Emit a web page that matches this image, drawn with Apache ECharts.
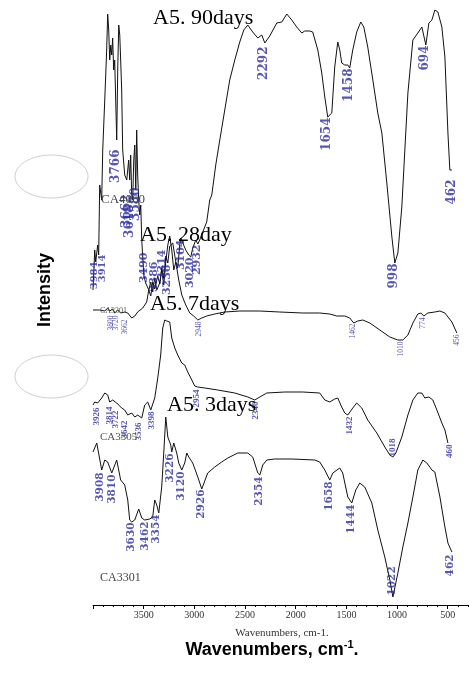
<!DOCTYPE html>
<html><head><meta charset="utf-8">
<script src="https://cdn.jsdelivr.net/npm/echarts@6/dist/echarts.min.js"></script>
<style>html,body{margin:0;padding:0;background:#fff}#c{width:470px;height:673px}</style>
</head><body><div id="c"></div>
<script>
// Wavenumber (cm-1) vs. stacked intensity (arbitrary offset units)
const days90 = [[4000,315],[3983,355],[3973,343],[3954,360],[3944,350],[3934,420],[3914,405],[3904,455],[3884,505],[3865,555],[3855,591],[3845,575],[3835,545],[3825,560],[3815,550],[3806,567],[3796,535],[3786,545],[3776,505],[3766,465],[3756,535],[3746,580],[3736,570],[3727,545],[3717,515],[3707,455],[3687,430],[3667,425],[3648,445],[3638,425],[3628,450],[3618,410],[3608,405],[3598,445],[3588,460],[3578,415],[3569,475],[3559,430],[3549,405],[3539,390],[3529,400],[3519,365],[3499,330],[3480,322],[3450,315],[3430,323],[3411,313],[3391,327],[3371,315],[3341,322],[3322,335],[3302,320],[3282,343],[3262,360],[3243,369],[3223,355],[3203,335],[3183,343],[3164,337],[3144,360],[3134,367],[3114,362],[3085,355],[3055,350],[3035,348],[3016,357],[2986,365],[2966,361],[2947,365],[2917,373],[2878,383],[2848,405],[2828,410],[2789,440],[2749,465],[2700,495],[2651,525],[2601,545],[2552,563],[2512,575],[2473,580],[2424,573],[2374,567],[2335,570],[2305,562],[2256,569],[2187,582],[2137,583],[2088,591],[2039,585],[1990,578],[1940,572],[1911,574],[1861,574],[1832,573],[1782,555],[1743,532],[1713,508],[1684,488],[1644,492],[1615,538],[1585,563],[1565,555],[1546,542],[1516,540],[1486,540],[1467,537],[1437,555],[1398,573],[1358,583],[1328,578],[1289,558],[1239,525],[1190,492],[1150,472],[1101,422],[1051,368],[1022,342],[992,352],[953,398],[923,455],[893,512],[844,565],[795,572],[755,578],[716,560],[686,582],[656,585],[627,595],[597,593],[558,578],[528,548],[498,472],[479,435],[459,435]];
const days28 = [[4000,295],[3934,295],[3884,294],[3855,297],[3835,294],[3806,296],[3786,292],[3756,295],[3727,292],[3687,293],[3657,292],[3618,287],[3588,289],[3559,293],[3509,297],[3470,303],[3450,315],[3430,309],[3411,323],[3391,316],[3361,329],[3341,321],[3322,337],[3302,327],[3282,349],[3262,342],[3243,359],[3213,362],[3183,343],[3154,325],[3124,310],[3085,300],[3045,292],[3006,289],[2966,285],[2927,287],[2878,289],[2799,291],[2700,293],[2552,294],[2354,294],[2157,293],[1930,292],[1763,292],[1664,291],[1595,289],[1516,289],[1467,287],[1427,282],[1388,284],[1338,285],[1269,282],[1170,275],[1071,268],[992,265],[943,265],[893,270],[844,282],[795,291],[765,292],[736,289],[696,292],[627,293],[577,294],[528,292],[459,283],[410,272]];
const days7 = [[4000,200],[3983,203],[3954,202],[3914,207],[3884,212],[3855,210],[3835,203],[3806,205],[3766,202],[3756,203],[3717,197],[3687,195],[3657,190],[3618,192],[3588,188],[3559,190],[3519,187],[3490,200],[3460,203],[3430,195],[3391,207],[3361,227],[3332,250],[3312,277],[3292,285],[3272,284],[3262,286],[3243,283],[3223,267],[3193,257],[3164,250],[3124,242],[3095,240],[3065,233],[3025,225],[2996,219],[2966,218],[2897,217],[2769,215],[2601,212],[2473,208],[2404,205],[2354,208],[2285,212],[2108,213],[1930,213],[1763,212],[1713,205],[1664,203],[1615,206],[1585,207],[1546,198],[1516,192],[1486,190],[1437,197],[1398,202],[1348,197],[1289,185],[1200,172],[1121,158],[1071,150],[1041,148],[1012,152],[953,168],[893,190],[844,205],[795,212],[755,212],[726,207],[686,208],[647,205],[607,195],[558,182],[528,175],[498,162]];
const days3 = [[4000,153],[3963,162],[3914,135],[3884,145],[3855,143],[3815,132],[3766,145],[3727,125],[3687,120],[3657,105],[3638,85],[3618,83],[3588,85],[3549,96],[3519,87],[3490,85],[3440,86],[3411,88],[3391,105],[3371,100],[3351,92],[3322,118],[3302,152],[3282,188],[3262,168],[3233,160],[3223,153],[3203,162],[3174,152],[3154,142],[3124,135],[3095,142],[3075,152],[3055,148],[3016,142],[2966,128],[2927,116],[2868,132],[2799,138],[2730,143],[2670,147],[2572,152],[2473,152],[2424,148],[2374,132],[2354,130],[2325,140],[2285,145],[2206,146],[2039,146],[1812,145],[1763,143],[1713,135],[1664,125],[1634,132],[1565,137],[1536,132],[1486,108],[1447,102],[1407,115],[1368,122],[1319,118],[1249,102],[1190,75],[1121,48],[1071,25],[1041,8],[992,32],[943,58],[893,82],[844,108],[795,135],[745,145],[706,142],[656,135],[627,133],[577,108],[528,78],[498,62],[459,53]];

// Peak labels: [wavenumber, intensity at label anchor, text]
const peaks90 = [[2305,558,'2292'],[1684,487,'1654'],[1467,536,'1458'],[1022,341,'998'],[716,559,'694'],[459,425,'462'],[3766,455,'3766'],[3657,410,'3662'],[3628,400,'3618'],[3569,417,'3580']];
const peaks90Edge = [[3983,343,'3984'],[3904,350,'3914']];
const peaks28Mid = [[3490,352,'3490'],[3391,343,'3386'],[3312,355,'3314'],[3262,340,'3236'],[3124,365,'3104'],[3035,347,'3020'],[2966,360,'2932']];
const peaks28 = [[3815,289,'3800'],[3766,289,'3720'],[3677,285,'3662'],[2947,283,'2948'],[1427,281,'1462'],[953,263,'1010'],[736,287,'774'],[405,270,'456']];
const peaks7 = [[3963,197,'3926'],[3835,198,'3814'],[3776,194,'3722'],[3687,184,'3642'],[3549,182,'3536'],[3420,193,'3398'],[2976,215,'2954'],[2394,203,'2340'],[1467,188,'1432'],[479,160,'460']];
const peaks7Above = [[1041,148,'1018']];
const peaks3 = [[3924,132,'3908'],[3806,130,'3810'],[3618,82,'3630'],[3480,83,'3462'],[3371,90,'3354'],[3233,151,'3226'],[3124,133,'3120'],[2927,115,'2926'],[2354,128,'2354'],[1664,123,'1658'],[1447,100,'1444'],[469,50,'462']];
const peaks3Above = [[1041,9,'1022']];

const majorTicks = [4000, 3500, 3000, 2500, 2000, 1500, 1000, 500];
const tickLabels = [3500, 3000, 2500, 2000, 1500, 1000, 500];
const xMin = 300, xMax = 4000;

const chart = echarts.init(document.getElementById('c'), null, {renderer: 'canvas'});

function curve(name, data) {
  return {name, type: 'line', data, symbol: 'none', silent: true, animation: false,
    lineStyle: {color: '#111', width: 1}};
}
function peakLabels(data, size, family, weight, above) {
  return {type: 'scatter', data, symbolSize: 1, silent: true, animation: false, z: 5,
    itemStyle: {color: 'rgba(0,0,0,0)'},
    label: {show: true, formatter: p => p.data[2], position: [0, 0], rotate: 90,
      align: above ? 'left' : 'right', verticalAlign: 'middle',
      fontFamily: family, fontWeight: weight, fontSize: size, color: '#2c2ca0'}};
}
const serif = 'Liberation Serif';
const series = [
  curve('A5. 90days', days90), curve('A5. 28day', days28),
  curve('A5. 7days', days7), curve('A5. 3days', days3),
  peakLabels(peaks90, 12, 'DejaVu Serif', 'bold', false),
  peakLabels(peaks90Edge, 10, 'DejaVu Serif', 'bold', false),
  peakLabels(peaks28Mid, 11, 'DejaVu Serif', 'bold', false),
  peakLabels(peaks28, 7.5, serif, 'normal', false),
  peakLabels(peaks7, 9, serif, 'bold', false),
  peakLabels(peaks7Above, 9, serif, 'bold', true),
  peakLabels(peaks3, 10.5, 'DejaVu Serif', 'bold', false),
  peakLabels(peaks3Above, 10.5, 'DejaVu Serif', 'bold', true)
];

function txt(text, x, y, size, opts) {
  return Object.assign({type: 'text', x, y, silent: true, z: 10,
    style: Object.assign({text, fontFamily: serif, fontSize: size, fill: '#000',
      align: 'left', verticalAlign: 'middle'}, opts || {})});
}

chart.setOption({
  animation: false,
  backgroundColor: '#fff',
  grid: {left: 93, top: 0, right: 2, bottom: 68, containLabel: false},
  xAxis: [
    {type: 'value', min: xMin, max: xMax, interval: 100, inverse: true,
      axisLine: {lineStyle: {color: '#000', width: 1}},
      axisTick: {show: true, length: 2, lineStyle: {color: '#000'}},
      splitLine: {show: false}, axisLabel: {show: false}},
    {type: 'value', min: xMin, max: xMax, inverse: true, position: 'bottom',
      axisLine: {show: false},
      axisTick: {show: true, length: 4, customValues: majorTicks, lineStyle: {color: '#000'}},
      splitLine: {show: false},
      axisLabel: {customValues: tickLabels, formatter: v => String(v),
        fontFamily: serif, fontSize: 10, color: '#333', margin: 5}}
  ],
  yAxis: {type: 'value', min: 0, max: 605, show: false},
  series,
  graphic: [
    {type: 'ellipse', shape: {cx: 51.5, cy: 176.5, rx: 36.5, ry: 21.5}, silent: true,
      style: {fill: 'none', stroke: '#cfcfcf', lineWidth: 1}},
    {type: 'ellipse', shape: {cx: 51.5, cy: 376.5, rx: 36.5, ry: 21.5}, silent: true,
      style: {fill: 'none', stroke: '#cfcfcf', lineWidth: 1}},
    txt('A5. 90days', 153, 18.5, 22),
    txt('A5. 28day', 140, 235.5, 22),
    txt('A5. 7days', 150, 304.5, 22),
    txt('A5. 3days', 167, 405.5, 22),
    txt('CA4060', 101, 200, 13, {fill: '#444'}),
    txt('CA3301', 100, 311, 8, {fill: '#555'}),
    txt('CA3305', 100, 437.5, 11, {fill: '#555'}),
    txt('CA3301', 100, 578, 12, {fill: '#444'}),
    txt('Wavenumbers, cm-1.', 282, 633, 11, {fill: '#333', align: 'center'}),
    {type: 'text', x: 45, y: 290, rotation: Math.PI / 2, silent: true,
      style: {text: 'Intensity', fontFamily: 'Liberation Sans', fontWeight: 'bold', fontSize: 18,
        fill: '#000', align: 'center', verticalAlign: 'middle'}},
    {type: 'text', x: 272, y: 650, silent: true,
      style: {text: '{a|Wavenumbers, cm}{b|-1}{a|.}', align: 'center', verticalAlign: 'middle',
        rich: {
          a: {fontFamily: 'Liberation Sans', fontWeight: 'bold', fontSize: 18, lineHeight: 22, fill: '#000'},
          b: {fontFamily: 'Liberation Sans', fontWeight: 'bold', fontSize: 11, lineHeight: 12, verticalAlign: 'top', fill: '#000'}
        }}}
  ]
});
</script></body></html>
